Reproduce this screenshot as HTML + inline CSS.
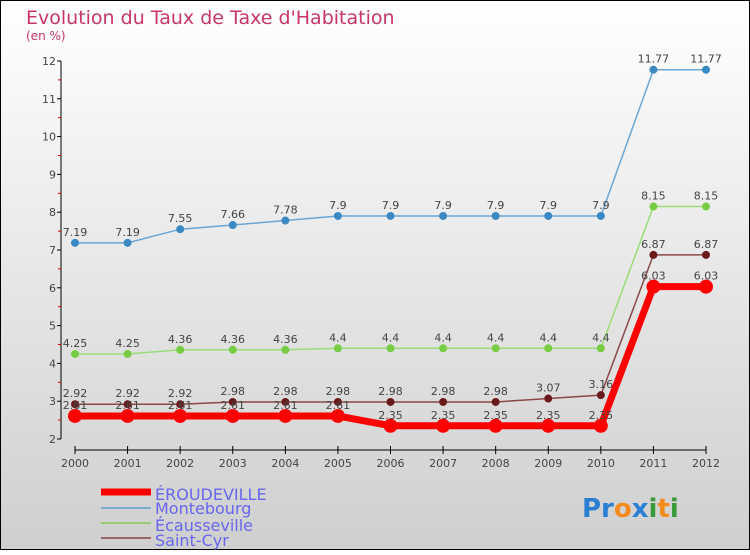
<!DOCTYPE html>
<html><head><meta charset="utf-8"><style>
body{margin:0}
svg text{font-family:"DejaVu Sans","Liberation Sans",sans-serif}
</style></head><body>
<svg id="c" width="750" height="550" xmlns="http://www.w3.org/2000/svg">
<defs><linearGradient id="bg" x1="0" y1="0" x2="0" y2="1"><stop offset="0" stop-color="#ffffff"/><stop offset="1" stop-color="#cfcfcf"/></linearGradient></defs>
<rect x="0.5" y="0.5" width="749" height="549" fill="url(#bg)" stroke="#000"/>
<text x="26" y="24" font-size="19" fill="#c8356a">Evolution du Taux de Taxe d'Habitation</text>
<text x="26" y="40" font-size="12" fill="#c8356a">(en %)</text>
<g id="axes"></g><g id="series"></g>
<g>
<line x1="101" y1="492" x2="151" y2="492" stroke="#f00" stroke-width="7"/>
<text x="155" y="500" font-size="16" fill="#6666ee">ÉROUDEVILLE</text>
<line x1="101" y1="508" x2="151" y2="508" stroke="#7aaacc" stroke-width="2"/>
<text x="155" y="514" font-size="16" fill="#6666ee">Montebourg</text>
<line x1="101" y1="523" x2="151" y2="523" stroke="#99cc77" stroke-width="2"/>
<text x="155" y="531" font-size="16" fill="#6666ee">Écausseville</text>
<line x1="101" y1="538" x2="151" y2="538" stroke="#996666" stroke-width="2"/>
<text x="155" y="546" font-size="16" fill="#6666ee">Saint-Cyr</text>
</g>
<text x="582" y="517" font-size="26" font-weight="bold"><tspan fill="#2a7fd4">Pr</tspan><tspan fill="#f28a1c">o</tspan><tspan fill="#2a7fd4">x</tspan><tspan fill="#3a9a3a">i</tspan><tspan fill="#f28a1c">t</tspan><tspan fill="#3a9a3a">i</tspan></text>
</svg>
<script>
const years=["2000","2001","2002","2003","2004","2005","2006","2007","2008","2009","2010","2011","2012"];
const yTicks=[2,3,4,5,6,7,8,9,10,11,12];
const eroudeville=[2.61,2.61,2.61,2.61,2.61,2.61,2.35,2.35,2.35,2.35,2.35,6.03,6.03];
const montebourg=[7.19,7.19,7.55,7.66,7.78,7.9,7.9,7.9,7.9,7.9,7.9,11.77,11.77];
const ecausseville=[4.25,4.25,4.36,4.36,4.36,4.4,4.4,4.4,4.4,4.4,4.4,8.15,8.15];
const saintCyr=[2.92,2.92,2.92,2.98,2.98,2.98,2.98,2.98,2.98,3.07,3.16,6.87,6.87];
const NS="http://www.w3.org/2000/svg";
const X=i=>75+i*(706-75)/(years.length-1);
const Y=v=>439-(v-2)*(439-61)/10;
function mk(t,a,p){const e=document.createElementNS(NS,t);for(const k in a)e.setAttribute(k,a[k]);p.appendChild(e);return e;}
const ax=document.getElementById('axes');
let l=mk('line',{x1:61,y1:61,x2:61,y2:439,stroke:'#000'},ax);


yTicks.forEach(v=>{
 mk('line',{x1:57,y1:Y(v),x2:61,y2:Y(v),stroke:'#000'},ax);
 if(v<12)mk('line',{x1:58,y1:Y(v+0.5),x2:61,y2:Y(v+0.5),stroke:'#d00'},ax);
 const t=mk('text',{x:56,y:Y(v)+4,'font-size':11,fill:'#444','text-anchor':'end'},ax);t.textContent=v;
 
 
});
l=mk('line',{x1:75,y1:450,x2:706,y2:450,stroke:'#000'},ax);


years.forEach((y,i)=>{
 mk('line',{x1:X(i),y1:446,x2:X(i),y2:454,stroke:'#000'},ax);
 const t=mk('text',{x:X(i),y:467,'font-size':11,fill:'#444','text-anchor':'middle'},ax);t.textContent=y;
 
 
});
const sg=document.getElementById('series');
function series(name,d,col,w,r,dot){
 const g=mk('g',{},sg);
 
 
 mk('polyline',{points:d.map((v,i)=>X(i)+','+Y(v)).join(' '),fill:'none',stroke:col,'stroke-width':w},g);
 d.forEach((v,i)=>{
  const c=mk('circle',{cx:X(i),cy:Y(v),r:r,fill:dot},g);
  
  
  const t=mk('text',{x:X(i),y:Y(v)-7,'font-size':11,fill:'#444','text-anchor':'middle'},g);t.textContent=v;
  
  
 });
}
series('montebourg',montebourg,'#6aa6d6',1.5,4,'#3a88c4');
series('ecausseville',ecausseville,'#99dd77',1.5,4,'#77cc44');
series('saint-cyr',saintCyr,'#8a4848',1.5,4,'#6a1a1a');
series('eroudeville',eroudeville,'#ff0000',7,7,'#ff0000');
</script>
</body></html>
